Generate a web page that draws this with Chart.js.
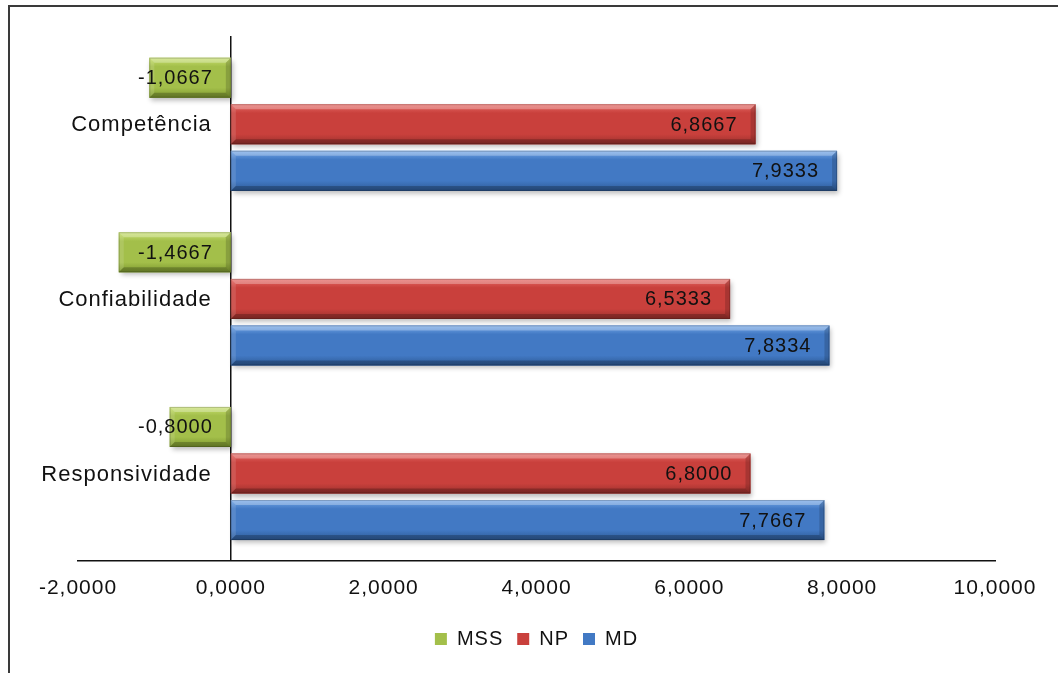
<!DOCTYPE html>
<html>
<head>
<meta charset="utf-8">
<script src="https://cdn.jsdelivr.net/npm/chart.js@4/dist/chart.umd.min.js"></script>
<style>
  html, body { margin: 0; padding: 0; background: #ffffff; }
  #wrap { position: relative; width: 1058px; height: 673px; overflow: hidden; }
  #frame { position: absolute; left: 8px; top: 5px; width: 2000px; height: 2000px;
           border-left: 2px solid #3a3a3a; border-top: 2px solid #3a3a3a; box-sizing: border-box; }
  canvas { position: absolute; left: 0; top: 0; }
</style>
</head>
<body>
<div id="wrap">
  <div id="frame"></div>
  <canvas id="chart" width="1058" height="673"></canvas>
</div>
<script>
// Dimensions of service quality
const categories = ['Competência', 'Confiabilidade', 'Responsividade'];

// Series values per dimension
const mssValues = [-1.0667, -1.4667, -0.8000];
const npValues  = [6.8667, 6.5333, 6.8000];
const mdValues  = [7.9333, 7.8334, 7.7667];

// Value axis ticks
const xTickValues = [-2, 0, 2, 4, 6, 8, 10];

const fmt = v => v.toFixed(4).replace('.', ',');

// Shading palettes for the bevelled bars: [top, body, bottom]
const shades = {
  MSS: ['#c8e070', '#a3bf4a', '#7b962e'],
  NP:  ['#e66a66', '#c9403c', '#99302c'],
  MD:  ['#75a8e8', '#4279c4', '#2d5a96']
};

const FONT = 'Liberation Sans, Arial, sans-serif';

// Soft drop shadow under the bars
const shadowPlugin = {
  id: 'barShadow',
  beforeDatasetsDraw(chart) {
    const ctx = chart.ctx;
    ctx.save();
    ctx.shadowColor = 'rgba(0,0,0,0.28)';
    ctx.shadowBlur = 5;
    ctx.shadowOffsetX = 2;
    ctx.shadowOffsetY = 3;
  },
  afterDatasetsDraw(chart) {
    chart.ctx.restore();
  }
};

// Bevel shading and value labels, drawn from each bar element's geometry
const bevelPlugin = {
  id: 'bevelBars',
  afterDatasetsDraw(chart) {
    const ctx = chart.ctx;
    chart.data.datasets.forEach((ds, di) => {
      const meta = chart.getDatasetMeta(di);
      if (meta.hidden) return;
      const pal = shades[ds.label];
      meta.data.forEach((el, i) => {
        const p = el.getProps(['x', 'y', 'base', 'height'], true);
        const l = Math.min(p.x, p.base), r = Math.max(p.x, p.base);
        const t = p.y - p.height / 2, b = p.y + p.height / 2;
        const w = r - l, h = b - t;
        ctx.save();
        const g = ctx.createLinearGradient(0, t, 0, b);
        g.addColorStop(0, pal[0]);
        g.addColorStop(0.22, pal[1]);
        g.addColorStop(0.75, pal[1]);
        g.addColorStop(1, pal[2]);
        ctx.fillStyle = g;
        ctx.fillRect(l, t, w, h);
        const e = Math.min(5, w / 2);
        // top bevel
        ctx.fillStyle = 'rgba(255,255,255,0.28)';
        ctx.beginPath();
        ctx.moveTo(l, t); ctx.lineTo(r, t); ctx.lineTo(r - e, t + e); ctx.lineTo(l + e, t + e);
        ctx.closePath(); ctx.fill();
        // left bevel
        ctx.fillStyle = 'rgba(255,255,255,0.12)';
        ctx.beginPath();
        ctx.moveTo(l, t); ctx.lineTo(l + e, t + e); ctx.lineTo(l + e, b - e); ctx.lineTo(l, b);
        ctx.closePath(); ctx.fill();
        // bottom bevel
        ctx.fillStyle = 'rgba(0,0,0,0.22)';
        ctx.beginPath();
        ctx.moveTo(l, b); ctx.lineTo(r, b); ctx.lineTo(r - e, b - e); ctx.lineTo(l + e, b - e);
        ctx.closePath(); ctx.fill();
        // right bevel
        ctx.fillStyle = 'rgba(0,0,0,0.16)';
        ctx.beginPath();
        ctx.moveTo(r, t); ctx.lineTo(r, b); ctx.lineTo(r - e, b - e); ctx.lineTo(r - e, t + e);
        ctx.closePath(); ctx.fill();
        ctx.strokeStyle = 'rgba(0,0,0,0.18)';
        ctx.lineWidth = 1;
        ctx.strokeRect(l + 0.5, t + 0.5, w - 1, h - 1);
        ctx.restore();

        // value label, right-aligned inside the bar's right end
        const v = ds.data[i];
        ctx.save();
        ctx.font = '20px ' + FONT;
        ctx.letterSpacing = '1px';
        ctx.fillStyle = '#111111';
        ctx.textAlign = 'right';
        ctx.textBaseline = 'middle';
        ctx.fillText(fmt(v), r - 18, p.y + 1);
        ctx.restore();
      });
    });
  }
};

// Category names sit just left of the vertical axis at zero
const categoryLabelPlugin = {
  id: 'categoryLabels',
  afterDraw(chart) {
    const ctx = chart.ctx;
    const xs = chart.scales.x, ys = chart.scales.y;
    const x0 = xs.getPixelForValue(0);
    ctx.save();
    ctx.font = '22px ' + FONT;
    ctx.letterSpacing = '1px';
    ctx.fillStyle = '#111111';
    ctx.textAlign = 'right';
    ctx.textBaseline = 'middle';
    categories.forEach((c, i) => {
      ctx.fillText(c, x0 - 19, ys.getPixelForValue(i) + 1);
    });
    ctx.restore();
  }
};

// Slightly wider letter spacing for all chart text
const spacingPlugin = {
  id: 'spacing',
  beforeUpdate(chart) { chart.ctx.letterSpacing = '1px'; },
  beforeDraw(chart) { chart.ctx.letterSpacing = '1px'; }
};

new Chart(document.getElementById('chart'), {
  type: 'bar',
  data: {
    labels: categories,
    datasets: [
      { label: 'MSS', data: mssValues, backgroundColor: shades.MSS[1] },
      { label: 'NP',  data: npValues,  backgroundColor: shades.NP[1] },
      { label: 'MD',  data: mdValues,  backgroundColor: shades.MD[1] }
    ]
  },
  options: {
    indexAxis: 'y',
    responsive: false,
    animation: false,
    categoryPercentage: 0.8,
    barPercentage: 0.86,
    layout: { padding: { left: 78, right: 63, top: 37, bottom: 14 } },
    scales: {
      x: {
        min: -2,
        max: 10,
        afterBuildTicks(scale) { scale.ticks = xTickValues.map(v => ({ value: v })); },
        afterFit(scale) {
          scale.height -= 1;
          scale.paddingLeft = 0;
          scale.paddingRight = 0;
        },
        grid: { display: false, drawTicks: false },
        border: { display: true, color: '#111111', width: 1.5 },
        ticks: {
          padding: 15,
          color: '#111111',
          font: { family: FONT, size: 21 },
          callback: v => fmt(v)
        }
      },
      y: {
        position: { x: 0 },
        grid: { display: false, drawTicks: false },
        border: { display: true, color: '#111111', width: 1.5 },
        ticks: { display: false }
      }
    },
    plugins: {
      legend: {
        position: 'bottom',
        fullSize: false,
        labels: {
          boxWidth: 12,
          boxHeight: 12,
          padding: 14,
          color: '#111111',
          font: { family: FONT, size: 20 }
        }
      },
      tooltip: { enabled: false }
    }
  },
  plugins: [spacingPlugin, shadowPlugin, bevelPlugin, categoryLabelPlugin]
});
</script>
</body>
</html>
